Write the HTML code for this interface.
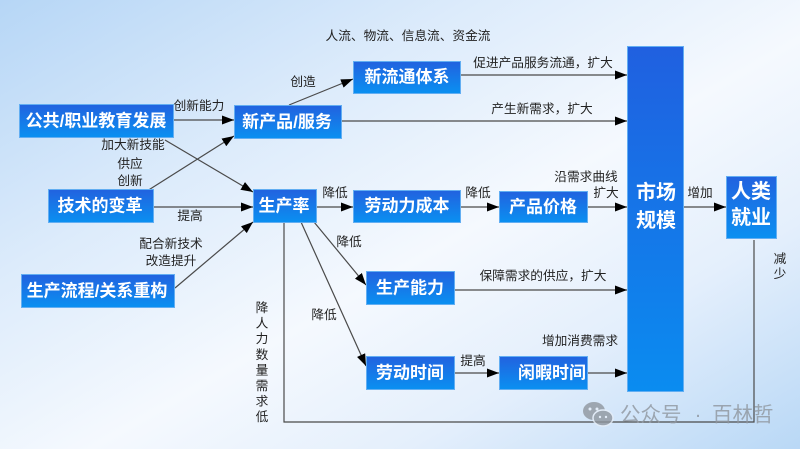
<!DOCTYPE html>
<html><head><meta charset="utf-8"><style>
html,body{margin:0;padding:0;width:800px;height:449px;overflow:hidden}
body{background:linear-gradient(150deg,#b6d6f6 0%,#dcebfb 30%,#f5f9fe 55%,#e4effc 75%,#b9d8f6 100%)}
svg{display:block}
.b{font-family:"Liberation Sans","Noto Sans CJK SC",sans-serif;font-weight:bold;fill:#fff;font-size:17px}
.l{font-family:"Liberation Sans","Noto Sans CJK SC",sans-serif;fill:#222;font-size:12.7px}
.w{font-family:"Liberation Sans","Noto Sans CJK SC",sans-serif;font-size:20.5px;fill:#8f969e}
</style></head><body>
<svg width="800" height="449" viewBox="0 0 800 449" xmlns="http://www.w3.org/2000/svg">
<defs>
<linearGradient id="g" x1="0" y1="0" x2="0" y2="1">
<stop offset="0" stop-color="#2262df"/><stop offset="1" stop-color="#0a90f1"/>
</linearGradient>
<linearGradient id="gt" x1="0" y1="0" x2="0" y2="1">
<stop offset="0" stop-color="#2060e0"/><stop offset="1" stop-color="#0a8cf0"/>
</linearGradient>
<marker id="a" markerUnits="userSpaceOnUse" markerWidth="13" markerHeight="10" refX="12" refY="4.5" orient="auto">
<path d="M0,0 L12,4.5 L0,9 z" fill="#000"/>
</marker>
</defs>

<!-- connectors -->
<g stroke="#4a4a4a" stroke-width="1.2" fill="none">
<line x1="173" y1="120" x2="234" y2="120" marker-end="url(#a)"/>
<line x1="165" y1="140" x2="253" y2="192" marker-end="url(#a)"/>
<line x1="147" y1="191" x2="234" y2="136" marker-end="url(#a)"/>
<line x1="153" y1="207" x2="253" y2="207" marker-end="url(#a)"/>
<line x1="175" y1="288" x2="253" y2="222" marker-end="url(#a)"/>
<line x1="289" y1="105" x2="353" y2="79" marker-end="url(#a)"/>
<line x1="460" y1="75" x2="627" y2="75" marker-end="url(#a)"/>
<line x1="341" y1="121" x2="627" y2="121" marker-end="url(#a)"/>
<line x1="316" y1="207" x2="353" y2="207" marker-end="url(#a)"/>
<line x1="460" y1="207" x2="499" y2="207" marker-end="url(#a)"/>
<line x1="587" y1="207" x2="627" y2="207" marker-end="url(#a)"/>
<line x1="683" y1="207" x2="726" y2="207" marker-end="url(#a)"/>
<line x1="314" y1="222" x2="366" y2="285" marker-end="url(#a)"/>
<line x1="301" y1="222" x2="366" y2="366" marker-end="url(#a)"/>
<polyline points="284,222 284,422 754,422 754,240"/>
<line x1="454" y1="290" x2="627" y2="290" marker-end="url(#a)"/>
<line x1="454" y1="373" x2="499" y2="373" marker-end="url(#a)"/>
<line x1="587" y1="373" x2="627" y2="373" marker-end="url(#a)"/>
</g>

<!-- boxes -->
<g stroke="#62aef2" stroke-width="1" fill="url(#g)">
<rect x="19.5" y="104.5" width="154" height="33"/>
<rect x="234.5" y="105.5" width="107" height="33"/>
<rect x="353.5" y="61.5" width="107" height="32"/>
<rect x="48.5" y="189.5" width="105" height="33"/>
<rect x="253.5" y="189.5" width="63" height="33"/>
<rect x="353.5" y="190.5" width="107" height="32"/>
<rect x="499.5" y="191.5" width="88" height="31"/>
<rect x="627.5" y="46.5" width="56" height="345" fill="url(#gt)"/>
<rect x="726.5" y="176.5" width="50" height="62"/>
<rect x="21.5" y="274.5" width="153" height="33"/>
<rect x="366.5" y="271.5" width="88" height="33"/>
<rect x="366.5" y="356.5" width="88" height="33"/>
<rect x="499.5" y="356.5" width="88" height="33"/>
</g>

<g class="b" text-anchor="middle" dominant-baseline="central">
<text x="96" y="121">公共/职业教育发展</text>
<text x="287" y="122">新产品/服务</text>
<text x="407" y="77">新流通体系</text>
<text x="100" y="206">技术的变革</text>
<text x="284" y="206">生产率</text>
<text x="407" y="206">劳动力成本</text>
<text x="543" y="207">产品价格</text>
<text x="97" y="291">生产流程/关系重构</text>
<text x="410" y="288">生产能力</text>
<text x="410" y="373">劳动时间</text>
<text x="552" y="373">闲暇时间</text>
<text x="656" y="193" style="font-size:20px">市场</text>
<text x="656" y="221" style="font-size:20px">规模</text>
<text x="751" y="192" style="font-size:20px">人类</text>
<text x="751" y="218" style="font-size:20px">就业</text>
</g>

<!-- labels -->
<g class="l" text-anchor="middle" dominant-baseline="central">
<text x="408" y="36">人流、物流、信息流、资金流</text>
<text x="303" y="82">创造</text>
<text x="543" y="63">促进产品服务流通，扩大</text>
<text x="542" y="109">产生新需求，扩大</text>
<text x="199" y="106">创新能力</text>
<text x="133" y="145">加大新技能</text>
<text x="130" y="164">供应</text>
<text x="130" y="181">创新</text>
<text x="190" y="216">提高</text>
<text x="335" y="193">降低</text>
<text x="478" y="193">降低</text>
<text x="586" y="177">沿需求曲线</text>
<text x="606" y="193">扩大</text>
<text x="700" y="193">增加</text>
<text x="171" y="244">配合新技术</text>
<text x="171" y="261">改造提升</text>
<text x="349" y="242">降低</text>
<text x="324" y="315">降低</text>
<text x="543" y="276">保障需求的供应，扩大</text>
<text x="580" y="341">增加消费需求</text>
<text x="473" y="361">提高</text>
<text x="780" y="259">减</text>
<text x="780" y="274">少</text>
<text x="262" y="308">降</text>
<text x="262" y="323.6">人</text>
<text x="262" y="339.2">力</text>
<text x="262" y="354.8">数</text>
<text x="262" y="370.4">量</text>
<text x="262" y="386">需</text>
<text x="262" y="401.6">求</text>
<text x="262" y="417">低</text>
</g>

<!-- watermark -->
<g opacity="0.8">
<ellipse cx="594" cy="411" rx="11" ry="9" fill="#8f969e"/>
<ellipse cx="603" cy="418" rx="10" ry="8" fill="#8f969e" stroke="#e6eef8" stroke-width="1.5"/>
<circle cx="590" cy="409" r="1.5" fill="#e6eef8"/>
<circle cx="597" cy="409" r="1.5" fill="#e6eef8"/>
<circle cx="600" cy="417" r="1.2" fill="#e6eef8"/>
<circle cx="606" cy="417" r="1.2" fill="#e6eef8"/>
<text class="w" x="620" y="415" dominant-baseline="central">公众号</text>
<text class="w" x="698" y="415" text-anchor="middle" dominant-baseline="central">·</text>
<text class="w" x="712" y="415" dominant-baseline="central">百林哲</text>
</g>
</svg>
</body></html>
